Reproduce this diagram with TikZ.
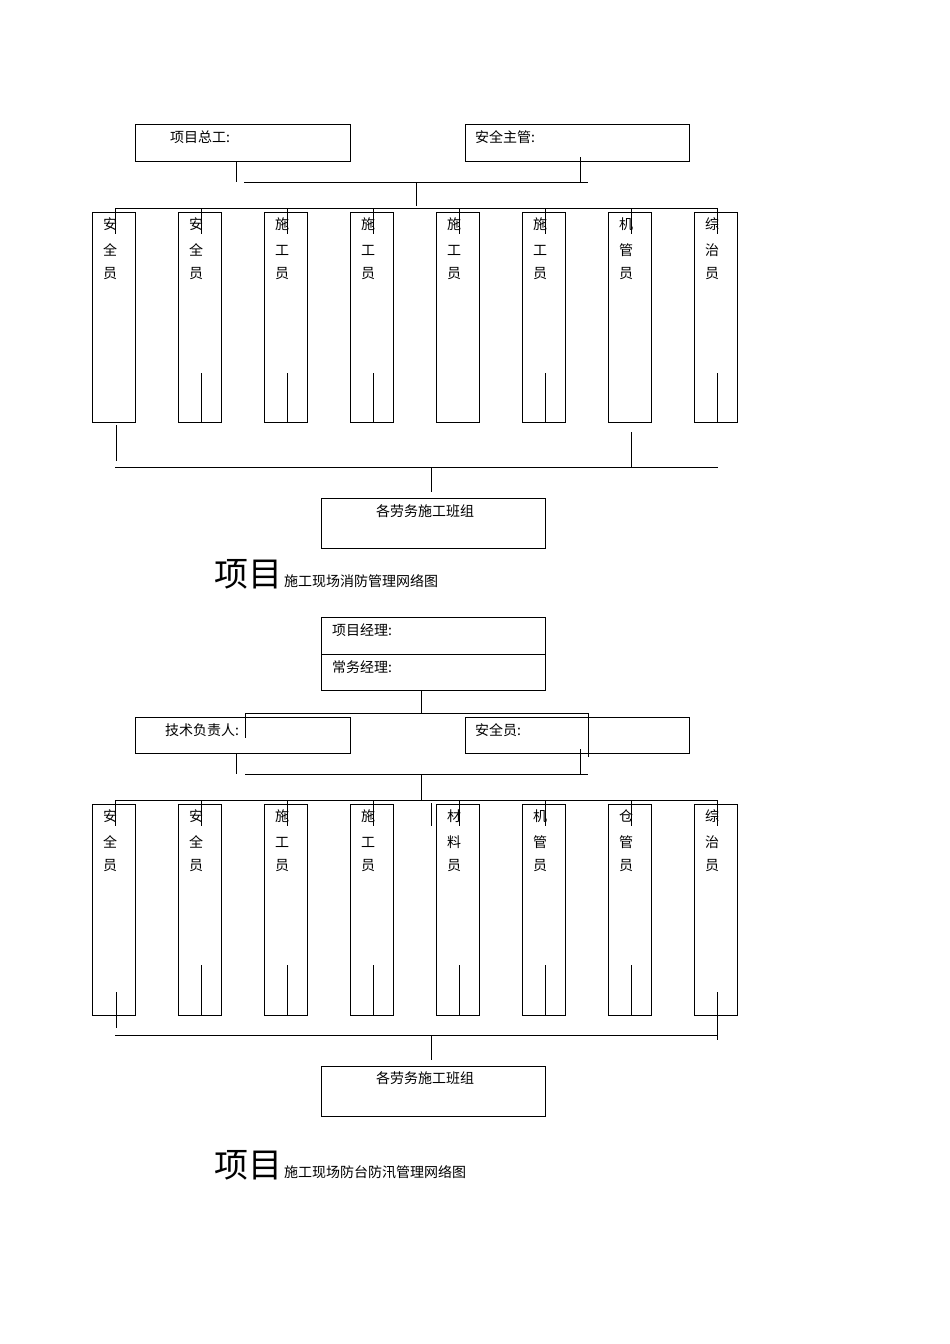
\documentclass[tikz,border=0pt]{standalone}
\usepackage{fontspec}
\newfontfamily\cjk{Noto Sans CJK SC}
\tikzset{bx/.style={draw,line width=0.8pt,inner sep=0pt},
  ln/.style={line width=1pt},
  txt/.style={anchor=west,inner sep=0pt,font=\cjk\fontsize{14}{14}\selectfont},
  col/.style={anchor=center,inner sep=0pt,font=\cjk\fontsize{14}{14}\selectfont}}
\begin{document}
\begin{tikzpicture}[x=1pt,y=-1pt]
\useasboundingbox (0,0) rectangle (950,1344);
\draw[bx] (135,124) rectangle (350,161); \node[txt] (a1) at (170,137) {项目总工:};
\draw[bx] (465,124) rectangle (689,161); \node[txt] (a2) at (475,137) {安全主管:};
\draw[ln] (236,161)--(236,182) (580,157)--(580,182) (244,182)--(588,182) (416,182)--(416,206);
\draw[ln] (115,208)--(718,208);
\foreach \i/\p/\q/\r in {0/安/全/员,1/安/全/员,2/施/工/员,3/施/工/员,4/施/工/员,5/施/工/员,6/机/管/员,7/综/治/员}{
  \draw[bx] (92+86*\i,212) rectangle (135+86*\i,422);
  \node[col] (cp\i) at (110+86*\i,224) {\p};
  \node[col] (cq\i) at (110+86*\i,250) {\q};
  \node[col] (cr\i) at (110+86*\i,274) {\r};
  \draw[ln] (115+86*\i,208)--(115+86*\i,234);
}
\foreach \i in {1,2,3,5,7}{\draw[ln] (115+86*\i,373)--(115+86*\i,422);}
\draw[ln] (116,425)--(116,461) (631,432)--(631,467);
\draw[ln] (115,467)--(718,467) (431,467)--(431,492);
\draw[bx] (321,498) rectangle (545,548); \node[txt] (g1) at (376,511) {各劳务施工班组};
\node[anchor=base west,inner sep=0pt,font=\cjk\fontsize{34}{34}\selectfont] (t1) at (214,586) {项目};
\node[anchor=base west,inner sep=0pt,font=\cjk\fontsize{14}{14}\selectfont] (t1b) at (284,586) {施工现场消防管理网络图};
\draw[bx] (321,617) rectangle (545,690); \draw[bx] (321,654)--(545,654);
\node[txt] (m1) at (332,630) {项目经理:};
\node[txt] (m2) at (332,667) {常务经理:};
\draw[ln] (421,690)--(421,713) (245,713)--(588,713) (245,713)--(245,738) (588,713)--(588,757);
\draw[bx] (135,717) rectangle (350,753); \node[txt] (b1) at (165,730) {技术负责人:};
\draw[bx] (465,717) rectangle (689,753); \node[txt] (b2) at (475,730) {安全员:};
\draw[ln] (236,753)--(236,774) (580,749)--(580,774) (245,774)--(588,774) (421,774)--(421,800);
\draw[ln] (115,800)--(718,800) (431,803)--(431,826);
\foreach \i/\p/\q/\r in {0/安/全/员,1/安/全/员,2/施/工/员,3/施/工/员,4/材/料/员,5/机/管/员,6/仓/管/员,7/综/治/员}{
  \draw[bx] (92+86*\i,804) rectangle (135+86*\i,1015);
  \node[col] (dp\i) at (110+86*\i,816) {\p};
  \node[col] (dq\i) at (110+86*\i,842) {\q};
  \node[col] (dr\i) at (110+86*\i,866) {\r};
  \draw[ln] (115+86*\i,800)--(115+86*\i,826);
}
\foreach \i in {1,2,3,4,5,6}{\draw[ln] (115+86*\i,965)--(115+86*\i,1015);}
\draw[ln] (116,992)--(116,1028) (717,992)--(717,1040);
\draw[ln] (115,1035)--(718,1035) (431,1035)--(431,1060);
\draw[bx] (321,1066) rectangle (545,1116); \node[txt] (g2) at (376,1078) {各劳务施工班组};
\node[anchor=base west,inner sep=0pt,font=\cjk\fontsize{34}{34}\selectfont] (t2) at (214,1177) {项目};
\node[anchor=base west,inner sep=0pt,font=\cjk\fontsize{14}{14}\selectfont] (t2b) at (284,1177) {施工现场防台防汛管理网络图};
\end{tikzpicture}
\end{document}
